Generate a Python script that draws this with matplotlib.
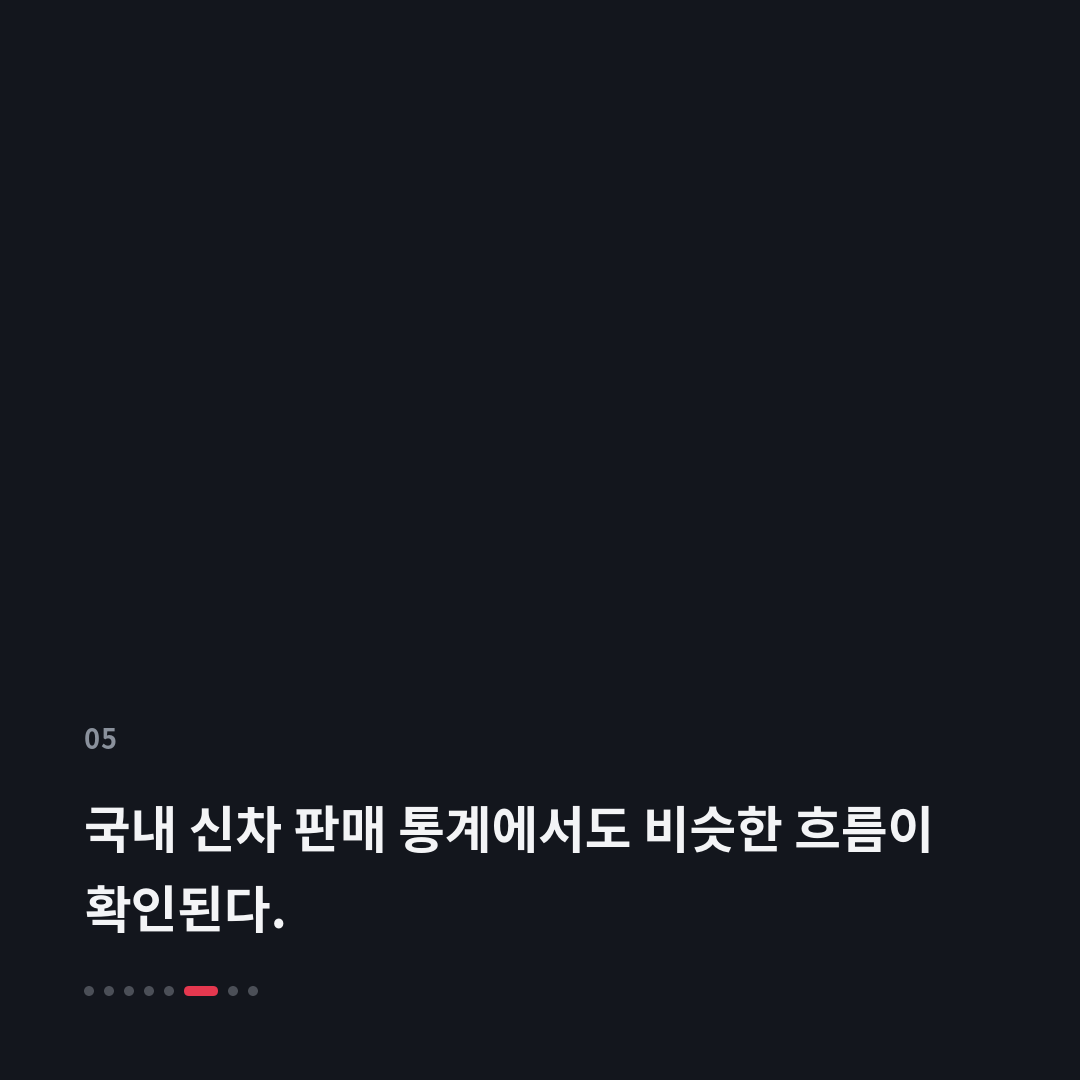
import matplotlib
matplotlib.use("Agg")
import matplotlib.pyplot as plt
from matplotlib.patches import FancyBboxPatch, Circle

plt.rcParams['font.family'] = ['Noto Sans CJK KR', 'DejaVu Sans']

slide_number = "05"
title_lines = ["국내 신차 판매 통계에서도 비슷한 흐름이", "확인된다."]
n_pages = 8
active_page = 5

BG = "#13161d"
W = H = 1080

fig = plt.figure(figsize=(10.8, 10.8), dpi=100, facecolor=BG)
ax = fig.add_axes([0, 0, 1, 1])
ax.set_xlim(0, W)
ax.set_ylim(H, 0)
ax.axis('off')
ax.set_facecolor(BG)

# slide number with slight letter spacing
cx = 84
for ch in slide_number:
    ax.text(cx, 749, ch, color="#8a919c", fontsize=19.5, fontweight='bold',
            ha='left', va='baseline')
    cx += 16

y0 = 848
for i, line in enumerate(title_lines):
    ax.text(84, y0 + i * 80, line, color="#f3f4f6", fontsize=36.5, fontweight='bold',
            ha='left', va='baseline')

x = 89
for i in range(n_pages):
    if i == active_page:
        ax.add_patch(FancyBboxPatch((x - 5, 986), 34, 10,
                                    boxstyle="round,pad=0,rounding_size=5",
                                    fc="#e5384f", ec="none"))
        x += 44
    else:
        ax.add_patch(Circle((x, 991), 5, fc="#4b4f57", ec="none"))
        x += 20

fig.savefig("out.png", dpi=100, facecolor=BG)
